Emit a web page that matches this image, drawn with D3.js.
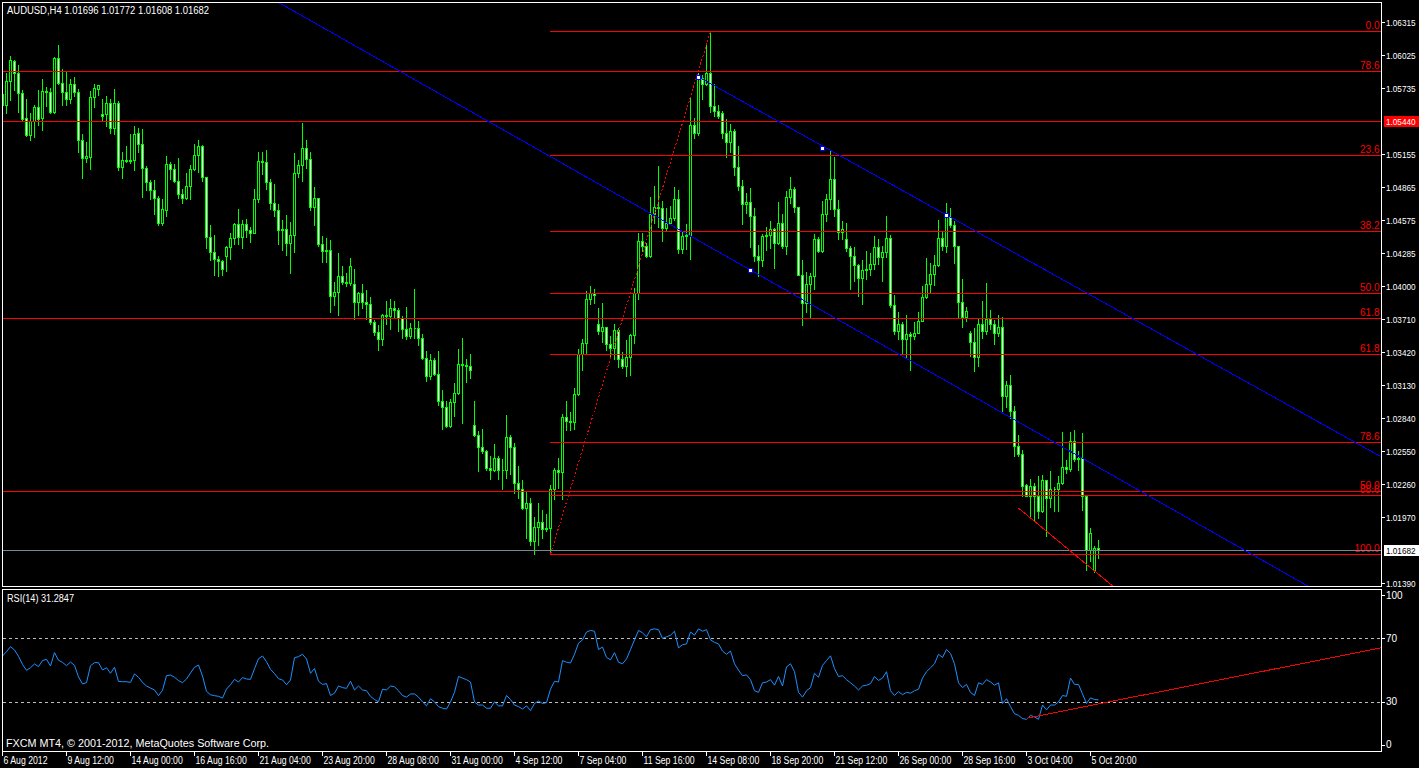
<!DOCTYPE html>
<html><head><meta charset="utf-8"><title>AUDUSD,H4</title>
<script src="https://cdn.jsdelivr.net/npm/d3@7/dist/d3.min.js"></script>
<style>html,body{margin:0;padding:0;background:#000;overflow:hidden}svg{display:block}</style>
</head><body><svg id="chart" width="1419" height="768"></svg>
<script>
const barOpen=[
1.05681,1.05588,1.05799,1.05969,1.05867,1.05687,1.05470,1.05324,1.05448,1.05566,
1.05473,1.05709,1.05696,1.05526,1.05997,1.05774,1.05696,1.05640,1.05765,1.05696,
1.05274,1.05122,1.05131,1.05659,1.05727,1.05504,1.05504,1.05603,1.05380,1.05603,
1.05044,1.05106,1.05097,1.05106,1.05339,1.05246,1.05035,1.04905,1.04843,1.04765,
1.04554,1.04666,1.05066,1.05020,1.04920,1.04808,1.04771,1.04871,1.05023,1.05144,
1.05221,1.04951,1.04424,1.04299,1.04237,1.04213,1.04262,1.04340,1.04414,1.04538,
1.04424,1.04538,1.04492,1.04464,1.04756,1.05091,1.05082,1.04905,1.04728,1.04660,
1.04492,1.04501,1.04377,1.04445,1.04989,1.05054,1.05206,1.05113,1.04694,1.04765,
1.04368,1.04306,1.04312,1.03911,1.03942,1.04082,1.04036,1.04020,1.04011,1.03859,
1.03936,1.03859,1.03843,1.03685,1.03598,1.03530,1.03747,1.03735,1.03803,1.03790,
1.03716,1.03617,1.03561,1.03626,1.03632,1.03539,1.03368,1.03204,1.03350,1.03229,
1.02986,1.02934,1.02769,1.02980,1.03055,1.03312,1.03306,1.03297,1.02778,1.02692,
1.02583,1.02552,1.02400,1.02387,1.02490,1.02381,1.02387,1.02670,1.02583,1.02273,
1.02214,1.02046,1.02096,1.01763,1.01885,1.01925,1.01863,1.01878,1.02220,1.02381,
1.02369,1.02847,1.02810,1.02803,1.03052,1.03405,1.03499,1.03880,1.03936,1.03663,
1.03601,1.03638,1.03492,1.03455,1.03610,1.03353,1.03300,1.03374,1.03564,1.03936,
1.04393,1.04346,1.04262,1.04625,1.04687,1.04678,1.04507,1.04548,1.04594,1.04759,
1.04324,1.04433,1.04448,1.05411,1.05339,1.05820,1.05765,1.05861,1.05578,1.05535,
1.05510,1.05339,1.05262,1.05355,1.05044,1.04871,1.04718,1.04734,1.04610,1.04259,
1.04222,1.04433,1.04448,1.04501,1.04371,1.04554,1.04346,1.04781,1.04852,1.04687,
1.04098,1.03849,1.04011,1.04082,1.04408,1.04306,1.04625,1.04758,1.04939,1.04673,
1.04469,1.04407,1.04328,1.04256,1.04178,1.04069,1.04141,1.04150,1.04188,1.04335,
1.04250,1.04291,1.04422,1.03827,1.03599,1.03661,1.03536,1.03574,1.03561,1.03586,
1.03693,1.03899,1.04015,1.04100,1.04178,1.04416,1.04350,1.04604,1.04532,1.04344,
1.03856,1.03724,1.03586,1.03505,1.03373,1.03661,1.03605,1.03712,1.03661,1.03586,
1.03639,1.03029,1.03129,1.02897,1.02590,1.02528,1.02252,1.02158,1.02239,1.02158,
1.02026,1.02293,1.02136,1.02214,1.02221,1.02271,1.02409,1.02396,1.02637,1.02481,
1.02490,1.02152,1.01682,1.01510,1.01696];
const barHigh=[
1.05712,1.05867,1.06013,1.05982,1.05935,1.05712,1.05640,1.05510,1.05588,1.05718,
1.05811,1.05743,1.05733,1.06007,1.06109,1.05898,1.05873,1.05814,1.05830,1.05727,
1.05330,1.05262,1.05709,1.05768,1.05758,1.05640,1.05665,1.05634,1.05724,1.05619,
1.05169,1.05224,1.05330,1.05401,1.05380,1.05373,1.05051,1.04926,1.04926,1.04787,
1.04759,1.05138,1.05082,1.05066,1.05119,1.04849,1.04989,1.05057,1.05243,1.05277,
1.05231,1.04951,1.04532,1.04445,1.04259,1.04222,1.04346,1.04461,1.04554,1.04672,
1.04579,1.04585,1.04517,1.04852,1.05169,1.05169,1.05190,1.04936,1.04889,1.04718,
1.04579,1.04619,1.04557,1.05162,1.05106,1.05426,1.05277,1.05175,1.04864,1.04765,
1.04433,1.04414,1.04402,1.04029,1.04284,1.04175,1.04107,1.04244,1.04144,1.03942,
1.04014,1.03958,1.03905,1.03700,1.03654,1.03756,1.03865,1.03880,1.03865,1.03803,
1.03731,1.03812,1.03669,1.03974,1.03688,1.03576,1.03424,1.03399,1.03368,1.03424,
1.03083,1.02990,1.03002,1.03148,1.03446,1.03545,1.03356,1.03405,1.02990,1.02726,
1.02744,1.02561,1.02508,1.02608,1.02502,1.02484,1.02865,1.02692,1.02623,1.02418,
1.02297,1.02195,1.02139,1.01971,1.02096,1.02034,1.01996,1.02251,1.02400,1.02493,
1.02872,1.02990,1.02896,1.03104,1.03446,1.03533,1.03952,1.03998,1.03974,1.03803,
1.03849,1.03641,1.03561,1.03663,1.03632,1.03415,1.03523,1.03576,1.03983,1.04461,
1.04461,1.04377,1.04781,1.04874,1.05051,1.04740,1.04681,1.04697,1.04864,1.04843,
1.04470,1.04542,1.05659,1.05473,1.05867,1.05851,1.06131,1.06230,1.05765,1.05584,
1.05535,1.05463,1.05417,1.05370,1.05224,1.04930,1.04812,1.04858,1.04678,1.04355,
1.04455,1.04511,1.04563,1.04507,1.04734,1.04625,1.04827,1.04951,1.04864,1.04690,
1.04228,1.04119,1.04113,1.04455,1.04424,1.04743,1.04802,1.05180,1.05127,1.04751,
1.04563,1.04548,1.04344,1.04338,1.04188,1.04225,1.04307,1.04288,1.04438,1.04407,
1.04344,1.04610,1.04444,1.03915,1.03765,1.03680,1.03743,1.03592,1.03680,1.03765,
1.04000,1.04244,1.04203,1.04266,1.04579,1.04476,1.04726,1.04682,1.04570,1.04344,
1.04062,1.03812,1.03599,1.03630,1.03712,1.03868,1.04025,1.03787,1.03702,1.03743,
1.03724,1.03160,1.03217,1.02941,1.02691,1.02559,1.02261,1.02302,1.02271,1.02333,
1.02340,1.02293,1.02377,1.02236,1.02333,1.02716,1.02471,1.02716,1.02731,1.02553,
1.02709,1.02158,1.01876,1.01713,1.01772];
const barLow=[
1.05557,1.05516,1.05628,1.05712,1.05526,1.05454,1.05314,1.05277,1.05308,1.05408,
1.05361,1.05572,1.05516,1.05516,1.05765,1.05588,1.05588,1.05603,1.05665,1.05175,
1.04945,1.05082,1.05023,1.05566,1.05671,1.05454,1.05401,1.05339,1.05330,1.05013,
1.04945,1.05082,1.05075,1.05013,1.05175,1.04781,1.04840,1.04759,1.04632,1.04532,
1.04532,1.04610,1.04936,1.04905,1.04771,1.04728,1.04756,1.04762,1.05013,1.04998,
1.04920,1.04330,1.04222,1.04098,1.04088,1.04098,1.04129,1.04237,1.04368,1.04368,
1.04330,1.04430,1.04386,1.04461,1.04734,1.04982,1.04849,1.04672,1.04610,1.04362,
1.04315,1.04268,1.04113,1.04299,1.04957,1.04920,1.05029,1.04666,1.04532,1.04346,
1.04206,1.04206,1.03766,1.03834,1.03741,1.04014,1.03995,1.04005,1.03710,1.03747,
1.03803,1.03710,1.03663,1.03570,1.03437,1.03477,1.03663,1.03623,1.03716,1.03601,
1.03539,1.03530,1.03545,1.03545,1.03483,1.03353,1.03160,1.03182,1.03219,1.02958,
1.02747,1.02760,1.02760,1.02856,1.03049,1.02794,1.03151,1.03194,1.02685,1.02375,
1.02530,1.02381,1.02307,1.02375,1.02307,1.02220,1.02313,1.02350,1.02183,1.02139,
1.02040,1.01785,1.01729,1.01649,1.01729,1.01785,1.01847,1.01646,1.02133,1.02226,
1.02127,1.02738,1.02738,1.02747,1.03042,1.03260,1.03399,1.03843,1.03849,1.03579,
1.03508,1.03437,1.03368,1.03353,1.03291,1.03275,1.03207,1.03219,1.03499,1.03880,
1.04306,1.04253,1.04253,1.04548,1.04517,1.04393,1.04486,1.04542,1.04579,1.04284,
1.04284,1.04324,1.04237,1.05293,1.05324,1.05634,1.05758,1.05526,1.05485,1.05473,
1.05299,1.05131,1.05175,1.04967,1.04843,1.04538,1.04641,1.04337,1.04213,1.04082,
1.04175,1.04315,1.04330,1.04154,1.04368,1.04330,1.04275,1.04728,1.04650,1.04098,
1.03654,1.03772,1.03725,1.03974,1.04299,1.04299,1.04563,1.04673,1.04610,1.04407,
1.04413,1.04307,1.03975,1.04037,1.03906,1.03843,1.04056,1.04094,1.04147,1.04194,
1.04037,1.04250,1.03812,1.03574,1.03536,1.03405,1.03373,1.03264,1.03530,1.03586,
1.03686,1.03890,1.03937,1.04006,1.04172,1.04313,1.04291,1.04516,1.04203,1.03724,
1.03639,1.03693,1.03380,1.03248,1.03295,1.03545,1.03574,1.03624,1.03492,1.03561,
1.02888,1.02935,1.02841,1.02503,1.02503,1.02152,1.02152,1.01970,1.01948,1.01964,
1.02011,1.01807,1.02058,1.02026,1.02026,1.02261,1.02355,1.02377,1.02459,1.02387,
1.02033,1.01510,1.01588,1.01488,1.01608];
const barClose=[
1.05588,1.05796,1.05976,1.05861,1.05687,1.05463,1.05324,1.05448,1.05566,1.05463,
1.05709,1.05696,1.05526,1.05997,1.05774,1.05696,1.05640,1.05765,1.05696,1.05274,
1.05122,1.05138,1.05659,1.05733,1.05758,1.05485,1.05603,1.05380,1.05603,1.05044,
1.05106,1.05097,1.05106,1.05330,1.05246,1.05035,1.04905,1.04843,1.04765,1.04554,
1.04672,1.05066,1.05020,1.04920,1.04808,1.04771,1.04871,1.05023,1.05144,1.05221,
1.04951,1.04424,1.04299,1.04237,1.04213,1.04144,1.04340,1.04414,1.04538,1.04424,
1.04538,1.04492,1.04464,1.04756,1.05091,1.05082,1.04905,1.04728,1.04660,1.04492,
1.04501,1.04377,1.04445,1.04989,1.05054,1.05206,1.05113,1.04694,1.04765,1.04368,
1.04306,1.04312,1.03911,1.03942,1.04082,1.04036,1.04020,1.04169,1.03859,1.03936,
1.03859,1.03843,1.03685,1.03598,1.03530,1.03747,1.03735,1.03803,1.03790,1.03716,
1.03617,1.03561,1.03626,1.03632,1.03539,1.03368,1.03204,1.03350,1.03229,1.02986,
1.02934,1.02769,1.02980,1.03055,1.03312,1.03306,1.03297,1.03260,1.02692,1.02583,
1.02552,1.02400,1.02387,1.02490,1.02381,1.02387,1.02670,1.02583,1.02273,1.02214,
1.02046,1.02096,1.01763,1.01885,1.01925,1.01863,1.01878,1.02220,1.02381,1.02369,
1.02847,1.02810,1.02803,1.03052,1.03405,1.03499,1.03880,1.03936,1.03921,1.03601,
1.03638,1.03492,1.03455,1.03610,1.03353,1.03300,1.03374,1.03564,1.03936,1.04393,
1.04346,1.04262,1.04625,1.04687,1.04678,1.04507,1.04548,1.04594,1.04759,1.04324,
1.04433,1.04448,1.05411,1.05339,1.05820,1.05765,1.05861,1.05578,1.05535,1.05491,
1.05339,1.05262,1.05355,1.05044,1.04871,1.04718,1.04734,1.04610,1.04259,1.04222,
1.04433,1.04448,1.04501,1.04371,1.04554,1.04346,1.04781,1.04852,1.04687,1.04098,
1.03849,1.04011,1.04082,1.04408,1.04306,1.04625,1.04759,1.04939,1.04673,1.04469,
1.04494,1.04328,1.04256,1.04178,1.04069,1.04141,1.04150,1.04188,1.04335,1.04250,
1.04291,1.04422,1.03827,1.03599,1.03661,1.03536,1.03574,1.03561,1.03586,1.03693,
1.03899,1.04015,1.04100,1.04178,1.04416,1.04350,1.04604,1.04532,1.04344,1.03856,
1.03724,1.03774,1.03505,1.03373,1.03661,1.03605,1.03712,1.03661,1.03586,1.03639,
1.03029,1.03129,1.02897,1.02590,1.02528,1.02239,1.02158,1.02239,1.02158,1.02026,
1.02293,1.02136,1.02214,1.02221,1.02271,1.02409,1.02396,1.02637,1.02481,1.02490,
1.02152,1.01682,1.01832,1.01698,1.01682];
const rsiValues=[
58.9,61.6,64.8,62.7,58.7,53.6,49.9,51.5,53.9,52.2,
56.0,56.8,52.6,61.0,56.2,54.9,52.8,55.1,53.0,45.7,
41.3,42.1,52.8,54.7,54.7,50.1,51.5,48.0,51.8,42.9,
42.7,42.7,42.3,47.6,45.5,42.3,40.0,38.7,37.5,33.9,
37.3,46.5,46.9,45.5,43.4,42.1,44.4,48.2,51.8,53.2,
46.3,36.6,34.5,33.9,33.5,32.4,38.1,40.8,44.2,42.5,
45.3,44.4,44.2,50.9,57.2,58.9,55.3,50.5,47.8,44.6,
43.8,40.8,43.8,57.8,58.5,60,57,48,51,43,
41,41.5,34,35.5,40,39,38.5,43,37.5,40,
37.5,37,33.5,31.5,30,38,37.5,40,39.5,37,
34,33,35,35,33,30,27.5,32,30,27,
26,25.5,30,36,46,45,44,42.5,30,28,
28,26,26,30,27.5,27.5,34,31.5,28,27,
25.5,27.5,24.5,29,30.5,29,29.5,38,43,42.5,
56,55,54.5,60,67,69,74,75,74.5,63,
64.5,58,56.5,61,55,54,57,63,69,75,
73.5,71,75.5,76,75.5,70,71,72,74.5,64,
66,66.5,74,72,76,74.5,75.5,69,67.5,66.5,
62,60,62,54,50,46.5,47,44,37,36,
42,42.5,44,40.5,46,40,52,54,49,36,
33,37,39,48,45.5,53,56,59,51,46,
46.5,44,42,40,37.5,40,40.5,41.5,46,43.5,
45,49,37,34,36.5,34.5,36,35.5,37,38,
45,49,51.5,54,60,58,63,60.5,54,42,
39,41,36,34,42,41,44,42.5,40.5,42,
29,32,27,22.5,21.5,19.5,19,21.5,20.5,19,
28,25,28,28,30,34,33.5,45,41,41,
35,29,32.5,31.5,31.28];
const timeTickBars=[0,16,32,48,64,80,96,112,128,144,160,176,192,208,224,240,256,272];
const timeTickLabels=["6 Aug 2012","9 Aug 12:00","14 Aug 00:00","16 Aug 16:00","21 Aug 04:00","23 Aug 20:00","28 Aug 08:00","31 Aug 00:00","4 Sep 12:00","7 Sep 04:00","11 Sep 16:00","14 Sep 08:00","18 Sep 20:00","21 Sep 12:00","26 Sep 00:00","28 Sep 16:00","3 Oct 04:00","5 Oct 20:00"];
const priceTickValues=[1.06315,1.06025,1.05735,1.05155,1.04865,1.04575,1.04285,1.04000,1.03710,1.03420,1.03130,1.02840,1.02550,1.02260,1.01970,1.01390];
const priceTickLabels=["1.06315","1.06025","1.05735","1.05155","1.04865","1.04575","1.04285","1.04000","1.03710","1.03420","1.03130","1.02840","1.02550","1.02260","1.01970","1.01390"];
const rsiTickValues=[100,70,30,0];
const rsiLevelValues=[70,30];
const fibAnchorHigh=[177,1.06230];
const fibAnchorLow=[137,1.01646];
const fib1Levels=[0,23.6,38.2,50,61.8,78.6,88.6,100];
const fib2Levels=[50,61.8,78.6];
const fib2Prices=[1.02200,1.03717,1.05884];
const hLinePrice=1.05440;
const bidPrice=1.01682;
const trendLower=[[69,1.06484],[187,1.04137]];
const trendUpper=[[174,1.05830],[236,1.04620]];
const trendMarks=[[174,1.05830],[205,1.05207],[236,1.04620],[187,1.04137]];
const supportLine=[[254,1.02050],[273,1.01498]];
const rsiTrend=[[256,19.7],[274,28.7]];
const titleText="AUDUSD,H4  1.01696 1.01772 1.01608 1.01682";
const rsiLabel="RSI(14) 31.2847";
const footerText="FXCM MT4, \u00A9 2001-2012, MetaQuotes Software Corp.";

const W=1419,H=768;
const PL=2.5,PR=1381.5,PT=2.5,PB=586.5,RT=589.5,RB=751.5;
const LIME="#00ff00",RED="#ff0000",BLUE="#0000ff",FONT="'Liberation Sans',Arial,sans-serif";
const N=barClose.length;
const svg=d3.select("#chart");
svg.append("rect").attr("width",W).attr("height",H).attr("fill","#000");
const x=d3.scaleLinear().domain([0,N-1]).range([2.5,1098.5]);
const y=d3.scaleLinear().domain([1.01390,1.06315]).range([583.3,21.7]);
const yr=d3.scaleLinear().domain([0,100]).range([749.5,590.75]);
const colOf=i=>Math.round(x(i)-0.5);
const rightBar=x.invert(PR);

const defs=svg.append("defs");
defs.append("clipPath").attr("id","cp").append("rect").attr("x",3).attr("y",3).attr("width",PR-3).attr("height",PB-3);
defs.append("clipPath").attr("id","cr").append("rect").attr("x",3).attr("y",RT+0.5).attr("width",PR-3).attr("height",RB-RT-1);

const gp=svg.append("g").attr("clip-path","url(#cp)");
const gr=svg.append("g").attr("clip-path","url(#cr)");

// candles
const bars=d3.range(N).map(i=>({i,o:barOpen[i],h:barHigh[i],l:barLow[i],c:barClose[i]}));
gp.append("g").selectAll("line").data(bars).join("line")
  .attr("x1",d=>colOf(d.i)+0.5).attr("x2",d=>colOf(d.i)+0.5)
  .attr("y1",d=>Math.round(y(d.h))).attr("y2",d=>Math.round(y(d.l))+1)
  .attr("stroke",LIME).attr("stroke-width",1).attr("shape-rendering","crispEdges");
gp.append("g").selectAll("path").data(bars).join("path")
  .attr("d",d=>{const c=colOf(d.i),t=Math.round(y(Math.max(d.o,d.c))),b=Math.round(y(Math.min(d.o,d.c)));
    return `M${c-0.5},${t+0.5}h2v${b-t}h-2Z`;})
  .attr("fill",d=>d.c<d.o?"#fff":"#000").attr("stroke",LIME).attr("stroke-width",1).attr("shape-rendering","crispEdges");

// helpers
function seg(g,x1,y1,x2,y2,color,dash){
  const l=g.append("line").attr("x1",x1).attr("y1",y1).attr("x2",x2).attr("y2",y2)
    .attr("stroke",color).attr("stroke-width",1).attr("shape-rendering","crispEdges");
  if(dash) l.attr("stroke-dasharray",dash);
  return l;
}
function rayEnds(a,b,b0,b1){const s=(b[1]-a[1])/(b[0]-a[0]);return [[b0,a[1]+s*(b0-a[0])],[b1,a[1]+s*(b1-a[0])]];}
const hy=p=>Math.round(y(p))+0.5;

// fib 2 (full width)
fib2Levels.forEach((lv,k)=>{
  const yy=hy(fib2Prices[k]);
  seg(gp,PL,yy,PR,yy,RED);
  gp.append("text").attr("x",1379.5).attr("y",yy-2.5).attr("text-anchor","end")
    .attr("fill",RED).attr("font-family",FONT).attr("font-size",10).text(lv.toFixed(1));
});
// fib 1 (from swing low to right)
fib1Levels.forEach(lv=>{
  const p=fibAnchorHigh[1]-(fibAnchorHigh[1]-fibAnchorLow[1])*lv/100;
  const yy=hy(p);
  seg(gp,colOf(fibAnchorLow[0]),yy,PR,yy,RED);
  gp.append("text").attr("x",1379.5).attr("y",yy-2.5).attr("text-anchor","end")
    .attr("fill",RED).attr("font-family",FONT).attr("font-size",10).text(lv.toFixed(1));
});
seg(gp,colOf(fibAnchorLow[0])+0.5,y(fibAnchorLow[1]),colOf(fibAnchorHigh[0])+0.5,y(fibAnchorHigh[1]),RED,"2,2");
// horizontal line + bid line
seg(gp,PL,hy(hLinePrice),PR,hy(hLinePrice),RED);
seg(gp,PL,hy(bidPrice),PR,hy(bidPrice),"#778899");
// trend lines
{const e=rayEnds(trendLower[0],trendLower[1],-5,rightBar);seg(gp,x(e[0][0]),y(e[0][1]),x(e[1][0]),y(e[1][1]),BLUE);}
{const e=rayEnds(trendUpper[0],trendUpper[1],trendUpper[0][0],rightBar);seg(gp,x(e[0][0]),y(e[0][1]),x(e[1][0]),y(e[1][1]),BLUE);}
{const e=rayEnds(supportLine[0],supportLine[1],supportLine[0][0],rightBar);seg(gp,x(e[0][0]),y(e[0][1]),x(e[1][0]),y(e[1][1]),RED);}
gp.append("g").selectAll("rect").data(trendMarks).join("rect")
  .attr("x",d=>colOf(d[0])-1.5).attr("y",d=>Math.round(y(d[1]))-1.5).attr("width",4).attr("height",4)
  .attr("fill","#fff").attr("stroke",BLUE).attr("stroke-width",1).attr("shape-rendering","crispEdges");

// RSI panel
rsiLevelValues.forEach(v=>seg(gr,PL,Math.round(yr(v))+0.5,PR,Math.round(yr(v))+0.5,"#c0c0c0","3,3"));
gr.append("path").datum(rsiValues).attr("fill","none").attr("stroke","#1e90ff").attr("stroke-width",1)
  .attr("d",d3.line().x((d,i)=>x(i)).y(d=>yr(d)));
{const e=rayEnds(rsiTrend[0],rsiTrend[1],rsiTrend[0][0],rightBar);seg(gr,x(e[0][0]),yr(e[0][1]),x(e[1][0]),yr(e[1][1]),RED);}

// frames
const fr=svg.append("g").attr("fill","none").attr("stroke","#fff").attr("stroke-width",1).attr("shape-rendering","crispEdges");
fr.append("rect").attr("x",PL).attr("y",PT).attr("width",PR-PL).attr("height",PB-PT);
fr.append("rect").attr("x",PL).attr("y",RT).attr("width",PR-PL).attr("height",RB-RT);

// price axis
const ax=svg.append("g").attr("font-family",FONT).attr("font-size",10).attr("fill","#fff");
priceTickValues.forEach((v,k)=>{
  const yy=Math.round(y(v))+0.5;
  seg(svg,PR,yy,PR+3.5,yy,"#fff");
  ax.append("text").attr("x",1386).attr("y",yy+3.5).attr("font-size",9.5).attr("textLength",29.5).attr("lengthAdjust","spacingAndGlyphs").text(priceTickLabels[k]);
});
function tag(p,bg,fg){
  const yy=Math.round(y(p));
  svg.append("rect").attr("x",1384).attr("y",yy-5).attr("width",35).attr("height",11).attr("fill",bg);
  svg.append("text").attr("x",1386).attr("y",yy+4).attr("fill",fg).attr("font-family",FONT).attr("font-size",9.5)
    .attr("textLength",29.5).attr("lengthAdjust","spacingAndGlyphs").text(p.toFixed(5));
}
tag(hLinePrice,RED,"#fff");
tag(bidPrice,"#fff","#000");

// rsi axis
rsiTickValues.forEach(v=>{
  const yy=Math.max(595,Math.min(744.7,yr(v)));
  seg(svg,PR,Math.round(yy)+0.5,PR+3.5,Math.round(yy)+0.5,"#fff");
  ax.append("text").attr("x",1386).attr("y",yy+3.5).text(v);
});

// time axis
timeTickBars.forEach((b,k)=>{
  const xx=colOf(b)+0.5;
  seg(svg,xx,RB,xx,RB+4,"#fff");
  const t=ax.append("text").attr("x",xx+1).attr("y",764).text(timeTickLabels[k]);
  const w=t.node().getComputedTextLength();
  t.attr("textLength",w*0.87).attr("lengthAdjust","spacingAndGlyphs");
});

// texts
ax.append("text").attr("x",7).attr("y",14).attr("textLength",202).attr("lengthAdjust","spacingAndGlyphs").text(titleText);
ax.append("text").attr("x",7).attr("y",601.5).attr("textLength",67).attr("lengthAdjust","spacingAndGlyphs").text(rsiLabel);
ax.append("text").attr("x",6).attr("y",746.5).attr("textLength",263).attr("lengthAdjust","spacingAndGlyphs").text(footerText);
</script></body></html>
